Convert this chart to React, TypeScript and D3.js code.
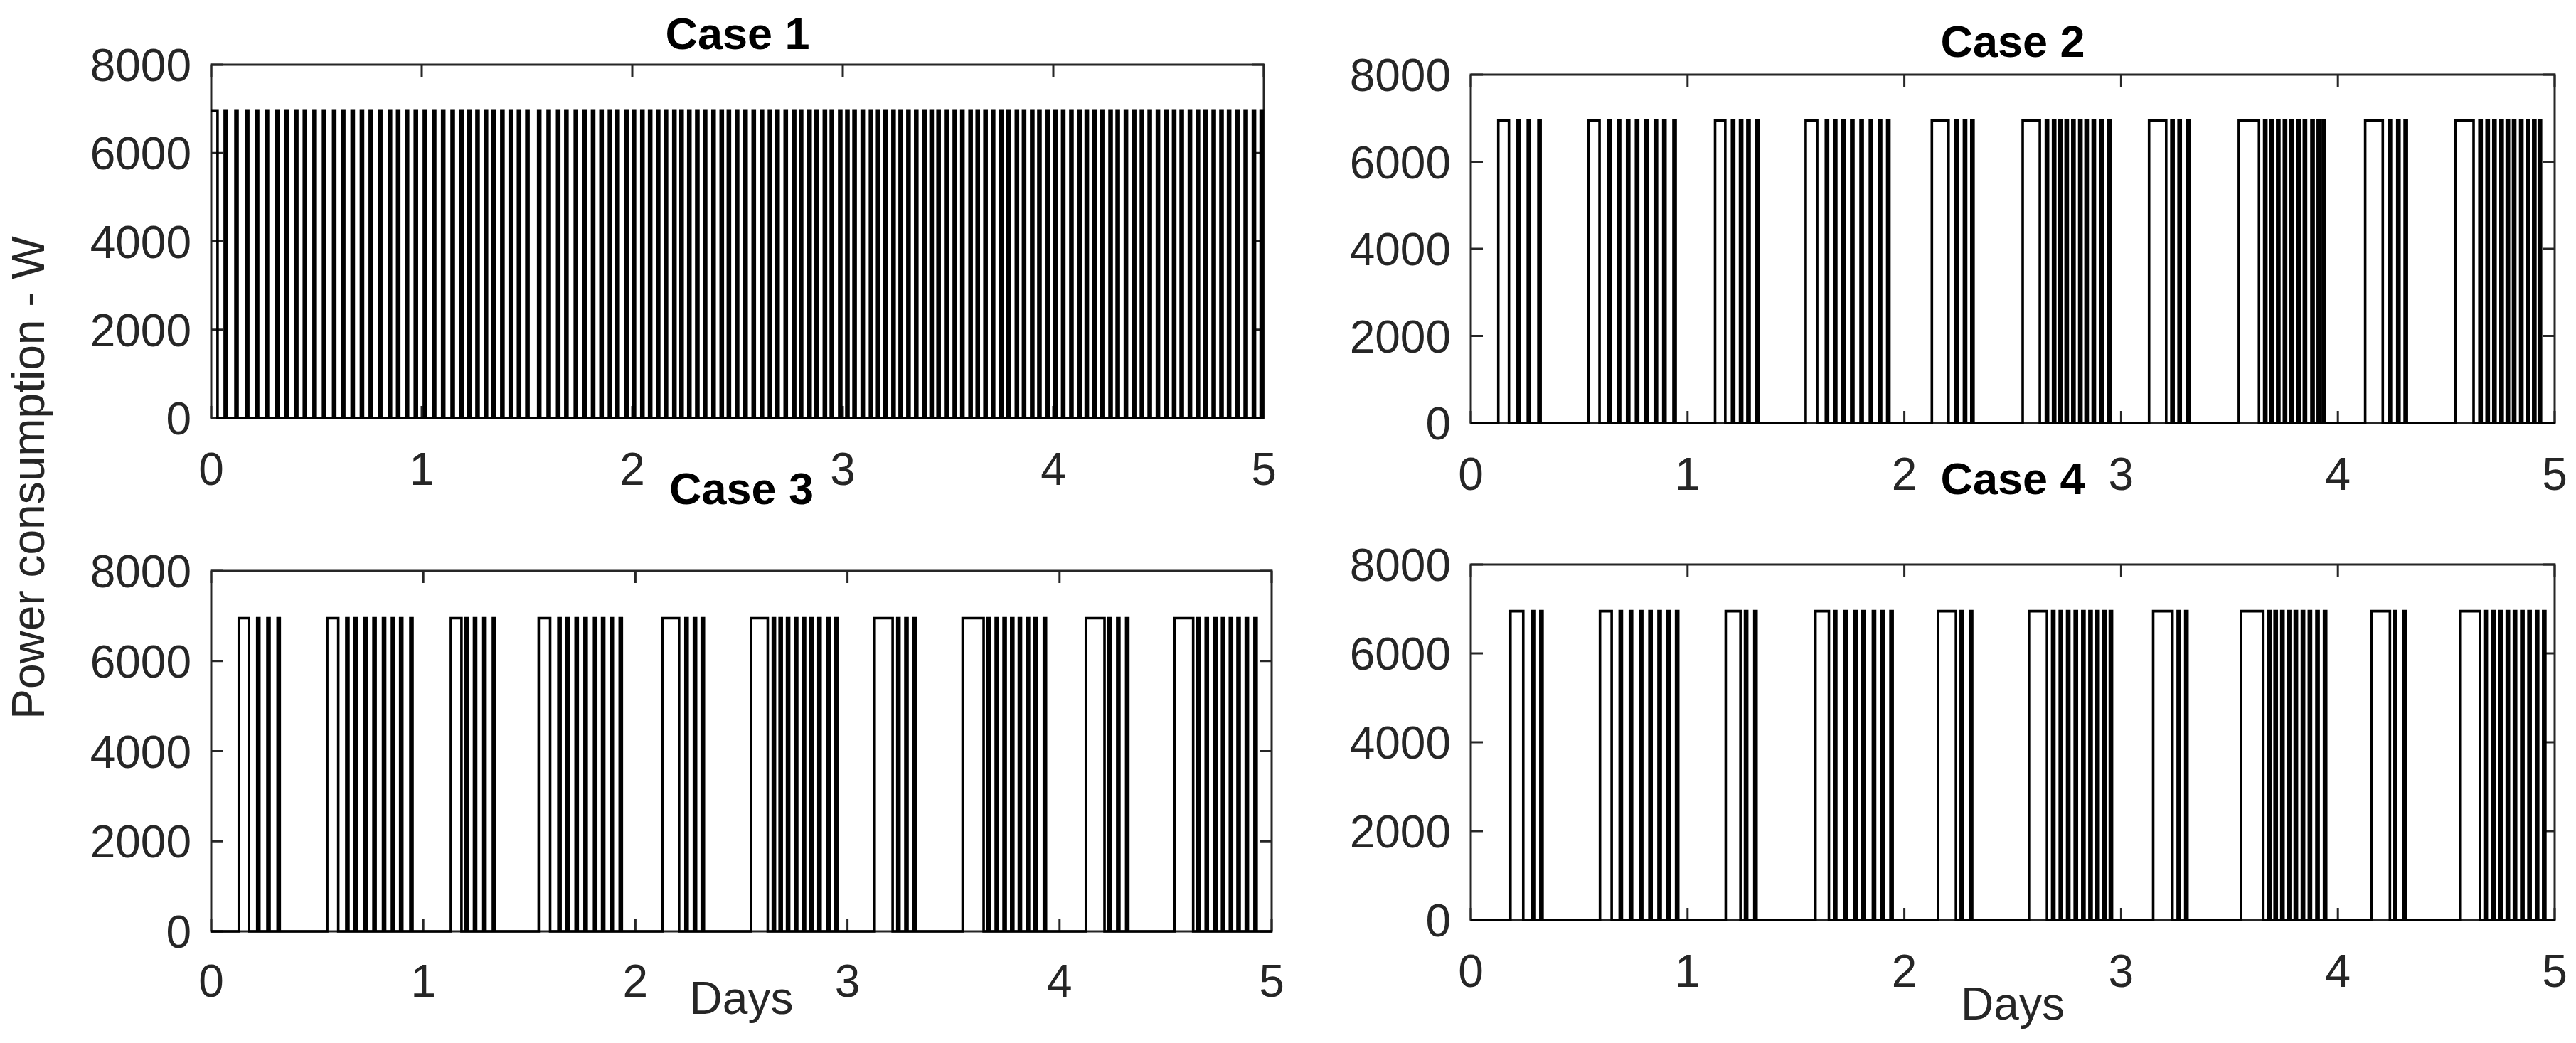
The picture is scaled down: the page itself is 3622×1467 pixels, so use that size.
import React from 'react';
import * as d3 from 'd3';

// ---------- data (days, watts) ----------
const X_TICKS = [0, 1, 2, 3, 4, 5];
const Y_TICKS = [0, 2000, 4000, 6000, 8000];
const X_DOMAIN: [number, number] = [0, 5];
const Y_DOMAIN: [number, number] = [0, 8000];
const PEAK_POWER = 6950;
const TITLES = ['Case 1', 'Case 2', 'Case 3', 'Case 4'];
const Y_LABEL = 'Power consumption - W';
const X_LABEL = 'Days';

// Case 1: continuous thermostatic cycling
const CASE1_WIDE: [number, number][] = [[0, 0.03]];
const CASE1_SHORT_ON = [
  0.064, 0.115, 0.166, 0.213, 0.26, 0.309, 0.354, 0.399, 0.44, 0.486, 0.531, 0.579, 0.622, 0.667, 0.711,
  0.753, 0.798, 0.844, 0.883, 0.925, 0.967, 1.01, 1.054, 1.097, 1.142, 1.184, 1.221, 1.26, 1.3, 1.337,
  1.378, 1.418, 1.457, 1.497, 1.553, 1.598, 1.643, 1.682, 1.727, 1.769, 1.809, 1.849, 1.889, 1.925,
  1.967, 2.003, 2.043, 2.08, 2.118, 2.155, 2.195, 2.229, 2.266, 2.304, 2.341, 2.381, 2.42, 2.454, 2.493,
  2.533, 2.572, 2.611, 2.649, 2.685, 2.724, 2.764, 2.797, 2.837, 2.871, 2.91, 2.943, 2.983, 3.017, 3.051,
  3.09, 3.129, 3.163, 3.197, 3.236, 3.27, 3.307, 3.344, 3.383, 3.417, 3.45, 3.49, 3.527, 3.563, 3.602,
  3.636, 3.673, 3.709, 3.749, 3.783, 3.822, 3.856, 3.895, 3.929, 3.969, 4.006, 4.042, 4.081, 4.121,
  4.154, 4.19, 4.227, 4.267, 4.301, 4.34, 4.379, 4.416, 4.453, 4.492, 4.532, 4.569, 4.605, 4.644, 4.682,
  4.717, 4.757, 4.794, 4.83, 4.869, 4.909, 4.948, 4.985,
];
const CASE1_SHORT_LEN = 0.01;

// Case 2
const CASE2_WIDE: [number, number][] = [
  [0.127, 0.176], [0.543, 0.594], [1.127, 1.174], [1.545, 1.598], [2.127, 2.204],
  [2.546, 2.625], [3.129, 3.208], [3.543, 3.636], [4.126, 4.207], [4.543, 4.626],
];
const CASE2_SHORT_ON = [
  0.216, 0.263, 0.312, 0.634, 0.679, 0.721, 0.762, 0.805, 0.849, 0.888, 0.935, 1.205, 1.242, 1.276,
  1.318, 1.638, 1.676, 1.715, 1.755, 1.798, 1.841, 1.883, 1.921, 2.236, 2.275, 2.309, 2.653, 2.686,
  2.715, 2.744, 2.775, 2.807, 2.836, 2.869, 2.906, 2.941, 3.232, 3.265, 3.305, 3.66, 3.689, 3.72, 3.751,
  3.781, 3.814, 3.843, 3.878, 3.907, 3.93, 4.235, 4.274, 4.308, 4.653, 4.686, 4.717, 4.75, 4.779, 4.808,
  4.841, 4.872, 4.901, 4.927,
];
const CASE2_SHORT_LEN = 0.01;

// Case 3
const CASE3_WIDE: [number, number][] = [
  [0.13, 0.178], [0.547, 0.599], [1.13, 1.18], [1.544, 1.598], [2.127, 2.206],
  [2.545, 2.624], [3.128, 3.213], [3.543, 3.642], [4.124, 4.212], [4.543, 4.63],
];
const CASE3_SHORT_ON = [
  0.217, 0.265, 0.313, 0.637, 0.675, 0.723, 0.765, 0.81, 0.852, 0.891, 0.939, 1.198, 1.239, 1.283,
  1.328, 1.637, 1.676, 1.718, 1.76, 1.805, 1.843, 1.887, 1.926, 2.236, 2.276, 2.313, 2.648, 2.68, 2.715,
  2.753, 2.79, 2.825, 2.863, 2.905, 2.943, 3.235, 3.273, 3.312, 3.661, 3.699, 3.736, 3.772, 3.808,
  3.846, 3.882, 3.926, 4.231, 4.272, 4.314, 4.65, 4.689, 4.73, 4.766, 4.803, 4.839, 4.878, 4.919,
];
const CASE3_SHORT_LEN = 0.01;

// Case 4
const CASE4_WIDE: [number, number][] = [
  [0.183, 0.242], [0.596, 0.65], [1.176, 1.244], [1.59, 1.652], [2.155, 2.238],
  [2.575, 2.658], [3.148, 3.237], [3.553, 3.656], [4.155, 4.24], [4.566, 4.655],
];
const CASE4_SHORT_ON = [
  0.282, 0.321, 0.687, 0.734, 0.781, 0.824, 0.866, 0.907, 0.947, 1.265, 1.308, 1.676, 1.723, 1.77,
  1.807, 1.855, 1.894, 1.936, 2.26, 2.303, 2.682, 2.717, 2.751, 2.786, 2.821, 2.854, 2.886, 2.919,
  2.948, 3.261, 3.296, 3.679, 3.708, 3.739, 3.77, 3.801, 3.834, 3.866, 3.901, 3.936, 4.258, 4.302,
  4.677, 4.712, 4.746, 4.779, 4.812, 4.846, 4.879, 4.914, 4.947,
];
const CASE4_SHORT_LEN = 0.01;

// ---------- layout ----------
const W = 3622;
const H = 1467;
const PANELS = [
  { left: 297, right: 1777, top: 91, bottom: 588, titleY: 69, tickLabelY: 682, xLabelY: null as number | null },
  { left: 2068, right: 3592, top: 105, bottom: 595, titleY: 80, tickLabelY: 689, xLabelY: null as number | null },
  { left: 297, right: 1788, top: 803, bottom: 1310, titleY: 709, tickLabelY: 1402, xLabelY: 1426 },
  { left: 2068, right: 3592, top: 794, bottom: 1294, titleY: 695, tickLabelY: 1388, xLabelY: 1434 },
];
const CASES = [
  { wide: CASE1_WIDE, shortOn: CASE1_SHORT_ON, shortLen: CASE1_SHORT_LEN },
  { wide: CASE2_WIDE, shortOn: CASE2_SHORT_ON, shortLen: CASE2_SHORT_LEN },
  { wide: CASE3_WIDE, shortOn: CASE3_SHORT_ON, shortLen: CASE3_SHORT_LEN },
  { wide: CASE4_WIDE, shortOn: CASE4_SHORT_ON, shortLen: CASE4_SHORT_LEN },
];

const AXIS_COLOR = '#262626';
const FONT = '"Liberation Sans", Arial, Helvetica, sans-serif';
const TICK_FS = 64;
const TICK_LEN = 17;

type Pt = { t: number; p: number };

function buildSeries(wide: [number, number][], shortOn: number[], shortLen: number): Pt[] {
  const intervals: [number, number][] = [
    ...wide,
    ...shortOn.map((s) => [s, s + shortLen] as [number, number]),
  ].sort((a, b) => a[0] - b[0]);
  const pts: Pt[] = [];
  if (!intervals.length || intervals[0][0] > X_DOMAIN[0]) pts.push({ t: X_DOMAIN[0], p: 0 });
  intervals.forEach(([s, e]) => {
    if (s > X_DOMAIN[0]) pts.push({ t: s, p: 0 });
    pts.push({ t: s, p: PEAK_POWER });
    pts.push({ t: Math.min(e, X_DOMAIN[1]), p: PEAK_POWER });
    pts.push({ t: Math.min(e, X_DOMAIN[1]), p: 0 });
  });
  pts.push({ t: X_DOMAIN[1], p: 0 });
  return pts;
}

function Panel({ idx }: { idx: number }) {
  const L = PANELS[idx];
  const c = CASES[idx];
  const xs = d3.scaleLinear().domain(X_DOMAIN).range([L.left, L.right]);
  const ys = d3.scaleLinear().domain(Y_DOMAIN).range([L.bottom, L.top]);
  const series = buildSeries(c.wide, c.shortOn, c.shortLen);
  const line = d3
    .line<Pt>()
    .x((d) => xs(d.t))
    .y((d) => ys(d.p));
  const cx = (L.left + L.right) / 2;
  return (
    <g>
      <rect
        x={L.left}
        y={L.top}
        width={L.right - L.left}
        height={L.bottom - L.top}
        fill="none"
        stroke={AXIS_COLOR}
        strokeWidth={3}
      />
      {X_TICKS.map((t) => (
        <g key={'x' + t}>
          <line x1={xs(t)} x2={xs(t)} y1={L.bottom} y2={L.bottom - TICK_LEN} stroke={AXIS_COLOR} strokeWidth={3} />
          <line x1={xs(t)} x2={xs(t)} y1={L.top} y2={L.top + TICK_LEN} stroke={AXIS_COLOR} strokeWidth={3} />
          <text x={xs(t)} y={L.tickLabelY} textAnchor="middle" fontFamily={FONT} fontSize={TICK_FS} fill={AXIS_COLOR}>
            {t}
          </text>
        </g>
      ))}
      {Y_TICKS.map((v) => (
        <g key={'y' + v}>
          <line x1={L.left} x2={L.left + TICK_LEN} y1={ys(v)} y2={ys(v)} stroke={AXIS_COLOR} strokeWidth={3} />
          <line x1={L.right} x2={L.right - TICK_LEN} y1={ys(v)} y2={ys(v)} stroke={AXIS_COLOR} strokeWidth={3} />
          <text x={L.left - 28} y={ys(v) + 23} textAnchor="end" fontFamily={FONT} fontSize={TICK_FS} fill={AXIS_COLOR}>
            {v}
          </text>
        </g>
      ))}
      <path d={line(series) || ''} fill="none" stroke="#000" strokeWidth={3.6} strokeLinejoin="miter" />
      <text x={cx} y={L.titleY} textAnchor="middle" fontFamily={FONT} fontSize={63} fontWeight="bold" fill="#000">
        {TITLES[idx]}
      </text>
      {L.xLabelY !== null && (
        <text x={cx} y={L.xLabelY} textAnchor="middle" fontFamily={FONT} fontSize={64} fill={AXIS_COLOR}>
          {X_LABEL}
        </text>
      )}
    </g>
  );
}

export default function App() {
  return (
    <svg
      width={W}
      height={H}
      viewBox={`0 0 ${W} ${H}`}
      style={{ position: 'absolute', left: 0, top: 0, display: 'block', background: '#fff' }}
    >
      <rect x={0} y={0} width={W} height={H} fill="#fff" />
      {PANELS.map((_, i) => (
        <Panel key={i} idx={i} />
      ))}
      <text
        transform={`translate(40, 672) rotate(-90)`}
        textAnchor="middle"
        dominantBaseline="central"
        fontFamily={FONT}
        fontSize={64}
        fill={AXIS_COLOR}
      >
        {Y_LABEL}
      </text>
    </svg>
  );
}
